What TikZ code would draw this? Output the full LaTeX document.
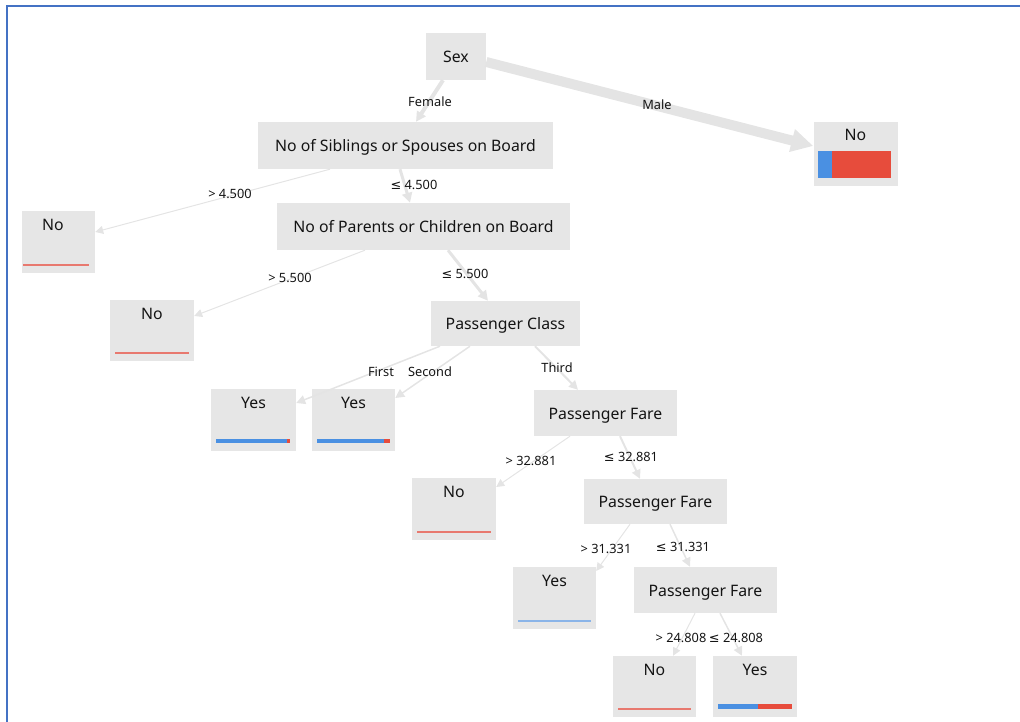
\documentclass[tikz,border=0pt]{standalone}
\usepackage{fontspec}
\setmainfont{Noto Sans}
\newfontfamily\symfont{DejaVu Sans}
\usepackage{xcolor}
\usepackage{tikz}
\usetikzlibrary{arrows.meta,positioning}

\definecolor{boxgray}{HTML}{E6E6E6}
\definecolor{edgegray}{HTML}{E4E4E4}
\definecolor{barblue}{HTML}{4A90E2}
\definecolor{barred}{HTML}{E74C3C}
\definecolor{lineblue}{HTML}{8AB4E8}
\definecolor{linered}{HTML}{E8796F}
\definecolor{frameblue}{HTML}{4472C4}
\definecolor{inkgray}{HTML}{141414}

% blue/red share bar at the foot of a leaf: node, blue length, red length, thickness
\newcommand{\leafbar}[4]{%
  \fill[barblue] ([shift={(5,8)}]#1.south west) rectangle ++(#2,#4);
  \fill[barred]  ([shift={(5+#2,8)}]#1.south west) rectangle ++(#3,#4);}
% thin one-colour line for a pure leaf: node, colour
\newcommand{\leafline}[2]{%
  \fill[#2] ([shift={(5,7)}]#1.south west) rectangle ([shift={(-5,9.5)}]#1.south east);}
\newcommand{\lesign}{{\symfont ≤}}

\begin{document}
\begin{tikzpicture}
      [ x=1pt, y=1pt,
        split/.style={fill=boxgray, inner sep=0pt, text=inkgray,
                      text height=16pt, text depth=4pt,
                      font=\fontsize{15.8}{18}\selectfont},
        leaf/.style={fill=boxgray, inner sep=0pt, minimum width=83pt,
                     text height=19pt, text depth=43pt, text=inkgray,
                     font=\fontsize{15.8}{18}\selectfont},
        cond/.style={inner sep=1pt, text=inkgray,
                     font=\fontsize{12.8}{14}\selectfont},
        link/.style 2 args={draw=edgegray, line width=#1,
                     -{Triangle[length=#2, width=#2, fill=edgegray]}}
      ]
      \useasboundingbox (0,0) rectangle (1020,-722);
      \draw[frameblue, line width=2pt] (1020,-6) -- (7,-6) -- (7,-722);

      % inner splits
      \node[split, minimum width=60pt,  minimum height=47pt] (sex)   at (456,-56.5)   {Sex};
      \node[split, minimum width=295pt, minimum height=47pt] (sib)   at (405.5,-145.5) {No of Siblings or Spouses on Board};
      \node[split, minimum width=293pt, minimum height=47pt] (par)   at (423.5,-226.5) {No of Parents or Children on Board};
      \node[split, minimum width=149pt, minimum height=45pt] (cls)   at (505.5,-323.5) {Passenger Class};
      \node[split, minimum width=143pt, minimum height=46pt] (fare1) at (605.5,-413)   {Passenger Fare};
      \node[split, minimum width=143pt, minimum height=45pt] (fare2) at (655.5,-501.5) {Passenger Fare};
      \node[split, minimum width=143pt, minimum height=46pt] (fare3) at (705.5,-590)   {Passenger Fare};

      % leaves
      \node[leaf, minimum width=84pt, text depth=45pt] (male) at (855.5,-154)  {No};
      \node[leaf, minimum width=73pt]                  (noA)  at (58.5,-242)   {No\hspace*{11pt}};
      \node[leaf, minimum width=84pt, text depth=42pt] (noB)  at (152,-330.5)  {No};
      \node[leaf, minimum width=85pt]                  (yesA) at (253.5,-420)  {Yes};
      \node[leaf]                                      (yesB) at (353.5,-420)  {Yes};
      \node[leaf, minimum width=84pt]                  (noC)  at (454,-509)    {No};
      \node[leaf]                                      (yesC) at (554.5,-598)  {Yes};
      \node[leaf, text depth=42pt]                     (noD)  at (654.5,-686.5) {No};
      \node[leaf, minimum width=84pt, text depth=42pt] (yesD) at (755,-686.5)  {Yes};

      % class shares
      \leafbar{male}{14}{59}{27}
      \fill[linered] ([shift={(1,7)}]noA.south west) rectangle ++(66,2.5);
      \leafline{noB}{linered}
      \leafbar{yesA}{71}{3}{4}
      \leafbar{yesB}{67}{6}{4}
      \leafline{noC}{linered}
      \leafline{yesC}{lineblue}
      \leafline{noD}{linered}
      \leafbar{yesD}{40}{34}{5}

      % branches
      \draw[link={4pt}{10pt}]  ([xshift=-13pt]sex.south)     -- ([xshift=10.5pt]sib.north);
      \draw[link={10pt}{22pt}] ([yshift=-5.5pt]sex.east)     -- ([yshift=8pt]male.west);
      \draw[link={1pt}{8pt}]   ([xshift=-75.5pt]sib.south)   -- ([yshift=10pt]noA.east);
      \draw[link={3pt}{10pt}]  ([xshift=-5.5pt]sib.south)    -- ([xshift=-13.5pt]par.north);
      \draw[link={1pt}{8pt}]   ([xshift=-58.5pt]par.south)   -- ([yshift=14.5pt]noB.east);
      \draw[link={3pt}{10pt}]  ([xshift=24.5pt]par.south)    -- ([xshift=-17.5pt]cls.north);
      \draw[link={1.5pt}{9pt}] ([xshift=-65.5pt]cls.south)   -- ([yshift=17pt]yesA.east);
      \draw[link={1.5pt}{9pt}] ([xshift=-35.5pt]cls.south)   -- ([yshift=22pt]yesB.east);
      \draw[link={2pt}{9pt}]   ([xshift=29.5pt]cls.south)    -- ([xshift=-27.5pt]fare1.north);
      \draw[link={1pt}{8pt}]   ([xshift=-35.5pt]fare1.south) -- ([yshift=22pt]noC.east);
      \draw[link={2pt}{9pt}]   ([xshift=14.5pt]fare1.south)  -- ([xshift=-15.5pt]fare2.north);
      \draw[link={1pt}{8pt}]   ([xshift=-25.5pt]fare2.south) -- ([yshift=27pt]yesC.east);
      \draw[link={1.5pt}{9pt}] ([xshift=14.5pt]fare2.south)  -- ([xshift=-15.5pt]fare3.north);
      \draw[link={1pt}{8pt}]   ([xshift=-10.5pt]fare3.south) -- ([xshift=18.5pt]noD.north);
      \draw[link={1.5pt}{9pt}] ([xshift=14.5pt]fare3.south)  -- ([xshift=-13pt]yesD.north);

      % branch conditions
      \node[cond] (cFemale) at (430,-102) {Female};
      \node[cond] (cMale)   at (657,-105) {Male};
      \node[cond] (cSibGt)  at (230,-194) {> 4.500};
      \node[cond] (cSibLe)  at (414,-185) {\lesign{} 4.500};
      \node[cond] (cParGt)  at (290,-278) {> 5.500};
      \node[cond] (cParLe)  at (465,-274) {\lesign{} 5.500};
      \node[cond] (cFirst)  at (381,-372) {First};
      \node[cond] (cSecond) at (430,-372) {Second};
      \node[cond] (cThird)  at (557,-368) {Third};
      \node[cond] (cFaGt)   at (531,-461) {> 32.881};
      \node[cond] (cFaLe)   at (631,-457) {\lesign{} 32.881};
      \node[cond] (cFbGt)   at (606,-549) {> 31.331};
      \node[cond] (cFbLe)   at (683,-547) {\lesign{} 31.331};
      \node[cond] (cFcGt)   at (681,-638) {> 24.808};
      \node[cond] (cFcLe)   at (736,-638) {\lesign{} 24.808};
\end{tikzpicture}
\end{document}
